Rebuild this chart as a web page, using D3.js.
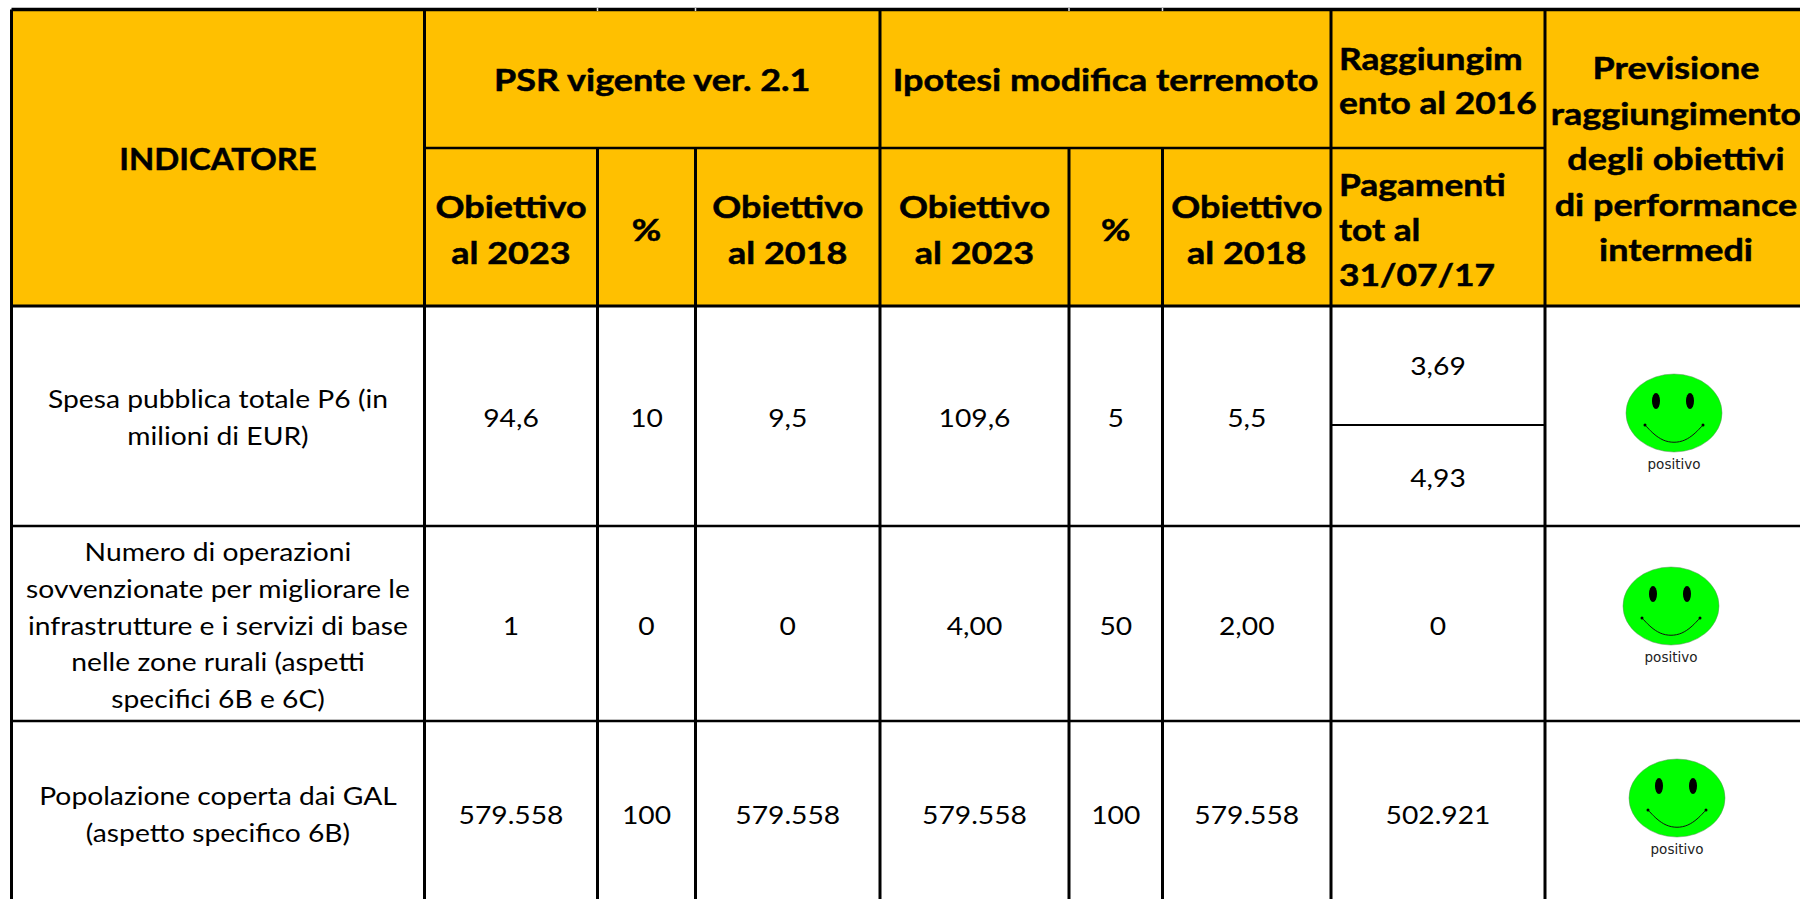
<!DOCTYPE html>
<html>
<head>
<meta charset="utf-8">
<script src="https://cdn.jsdelivr.net/npm/d3@7"></script>
<style>
  html, body { margin: 0; padding: 0; background: #fff; overflow: hidden; }
  text { font-family: Lato, "Open Sans", sans-serif; fill: #000; }
</style>
</head>
<body>
<svg id="table" width="1800" height="899"></svg>
<script>
const indicatori = [
  ["Spesa pubblica totale P6 (in", "milioni di EUR)"],
  ["Numero di operazioni", "sovvenzionate per migliorare le", "infrastrutture e i servizi di base", "nelle zone rurali (aspetti", "specifici 6B e 6C)"],
  ["Popolazione coperta dai GAL", "(aspetto specifico 6B)"]
];
const vigente2023 = ["94,6", "1", "579.558"];
const vigentePerc = ["10", "0", "100"];
const vigente2018 = ["9,5", "0", "579.558"];
const ipotesi2023 = ["109,6", "4,00", "579.558"];
const ipotesiPerc = ["5", "50", "100"];
const ipotesi2018 = ["5,5", "2,00", "579.558"];
const pagamenti = [["3,69", "4,93"], ["0"], ["502.921"]];
const previsione = ["positivo", "positivo", "positivo"];

const headTop = [
  { lines: ["PSR vigente ver. 2.1"], from: 1, to: 4 },
  { lines: ["Ipotesi modifica terremoto"], from: 4, to: 7 }
];
const headSub = [
  { lines: ["Obiettivo", "al 2023"], col: 1 },
  { lines: ["%"], col: 2 },
  { lines: ["Obiettivo", "al 2018"], col: 3 },
  { lines: ["Obiettivo", "al 2023"], col: 4 },
  { lines: ["%"], col: 5 },
  { lines: ["Obiettivo", "al 2018"], col: 6 }
];

// grid edges, measured on the picture
const colEdges = [11.5, 424.5, 597.5, 695.5, 880, 1069, 1162.5, 1331, 1545, 1808];
const rowEdges = [9.5, 306, 526, 721, 905];
const headMid = 148;
const splitY = 425;
const textCenters = [418, 626, 815];
const faceCenters = [[1674, 413], [1671, 606], [1677, 798]];

const orange = "#FFC000";
const green = "#00FF00";
const headStretch = 1.16;
const bodyStretch = 1.13;

const svg = d3.select("#table");
const colMid = i => (colEdges[i] + colEdges[i + 1]) / 2;

function block(cx, cy, lines, size, step, weight, anchor, stretch) {
  const g = svg.append("g").attr("transform", `translate(${cx},${cy}) scale(${stretch || bodyStretch},1)`);
  g.selectAll("text")
    .data(lines)
    .enter()
    .append("text")
    .attr("y", (d, i) => (i - (lines.length - 1) / 2) * step)
    .attr("dy", "0.35em")
    .attr("text-anchor", anchor || "middle")
    .attr("font-size", size)
    .attr("font-weight", weight || 400)
    .style("stroke", weight ? "#000" : "none")
    .style("stroke-width", weight ? 0.5 : 0)
    .text(d => d);
}

svg.append("rect")
  .attr("x", colEdges[0])
  .attr("y", rowEdges[0])
  .attr("width", 1800 - colEdges[0])
  .attr("height", rowEdges[1] - rowEdges[0])
  .attr("fill", orange);

// grid
const hLines = [
  [colEdges[0], colEdges[9], rowEdges[0], 3.5],
  [colEdges[1], colEdges[8], headMid, 2.5],
  [colEdges[0], colEdges[9], rowEdges[1], 3],
  [colEdges[7], colEdges[8], splitY, 2],
  [colEdges[0], colEdges[9], rowEdges[2], 2.5],
  [colEdges[0], colEdges[9], rowEdges[3], 2.5]
];
svg.selectAll(".h")
  .data(hLines)
  .enter()
  .append("line")
  .attr("class", "h")
  .attr("x1", d => d[0])
  .attr("x2", d => d[1])
  .attr("y1", d => d[2])
  .attr("y2", d => d[2])
  .attr("stroke", "#000")
  .attr("stroke-width", d => d[3]);

const vCols = [0, 1, 2, 3, 4, 5, 6, 7, 8];
svg.selectAll(".v")
  .data(vCols)
  .enter()
  .append("line")
  .attr("class", "v")
  .attr("x1", d => colEdges[d])
  .attr("x2", d => colEdges[d])
  .attr("y1", d => (d === 2 || d === 3 || d === 5 || d === 6) ? headMid : rowEdges[0])
  .attr("y2", 899)
  .attr("stroke", "#000")
  .attr("stroke-width", 3);

// small light specks on the top border, above the sub-columns
svg.selectAll(".speck")
  .data([2, 3, 5, 6])
  .enter()
  .append("line")
  .attr("class", "speck")
  .attr("x1", d => colEdges[d])
  .attr("x2", d => colEdges[d])
  .attr("y1", 8)
  .attr("y2", 11)
  .attr("stroke", "#ddd")
  .attr("stroke-width", 1.5);

// header
block(colMid(0), 159, ["INDICATORE"], 31, 0, 700, null, 1.06);
headTop.forEach(h => block((colEdges[h.from] + colEdges[h.to]) / 2, 80.5, h.lines, 31, 0, 700, null, headStretch));
headSub.forEach(h => block(colMid(h.col), 230, h.lines, 31, 46, 700, null, headStretch));
block(1339, 81, ["Raggiungim", "ento al 2016"], 31, 44.5, 700, "start", 1.14);
block(1339, 230.5, ["Pagamenti", "tot al", "31/07/17"], 31, 45, 700, "start", 1.14);
block(1676, 159.5, ["Previsione", "raggiungimento", "degli obiettivi", "di performance", "intermedi"], 31, 45.5, 700, null, headStretch);

// body
const bodyCols = [vigente2023, vigentePerc, vigente2018, ipotesi2023, ipotesiPerc, ipotesi2018];
indicatori.forEach((lines, r) => {
  block(colMid(0), textCenters[r], lines, 25, 36.7);
  bodyCols.forEach((col, c) => block(colMid(c + 1), textCenters[r], [col[r]], 25, 0));
});
block(colMid(7), 366, [pagamenti[0][0]], 25, 0);
block(colMid(7), 478, [pagamenti[0][1]], 25, 0);
block(colMid(7), textCenters[1], pagamenti[1], 25, 0);
block(colMid(7), textCenters[2], pagamenti[2], 25, 0);

// smileys
const smile = d3.line().curve(d3.curveBasis);
previsione.forEach((label, i) => {
  const g = svg.append("g").attr("transform", `translate(${faceCenters[i][0]},${faceCenters[i][1]})`);
  g.append("ellipse").attr("rx", 48).attr("ry", 39).attr("fill", green).attr("stroke", "#5c8f5c").attr("stroke-width", 0.5);
  [-18, 16].forEach(dx => {
    g.append("ellipse").attr("cx", dx).attr("cy", -12).attr("rx", 4).attr("ry", 8).attr("fill", "#000");
  });
  g.append("path")
    .attr("d", smile([[-29, 12], [-29, 12], [-12, 30], [12, 30], [29, 12], [29, 12]]))
    .attr("fill", "none")
    .attr("stroke", "#111")
    .attr("stroke-width", 1);
  [-29, 29].forEach(dx => g.append("circle").attr("cx", dx).attr("cy", 12).attr("r", 1.5).attr("fill", "#000"));
  g.append("text")
    .attr("y", 51)
    .attr("dy", "0.35em")
    .attr("text-anchor", "middle")
    .attr("font-size", 13.5)
    .style("font-family", "'DejaVu Sans', sans-serif")
    .style("fill", "#222")
    .text(label);
});
</script>
</body>
</html>
